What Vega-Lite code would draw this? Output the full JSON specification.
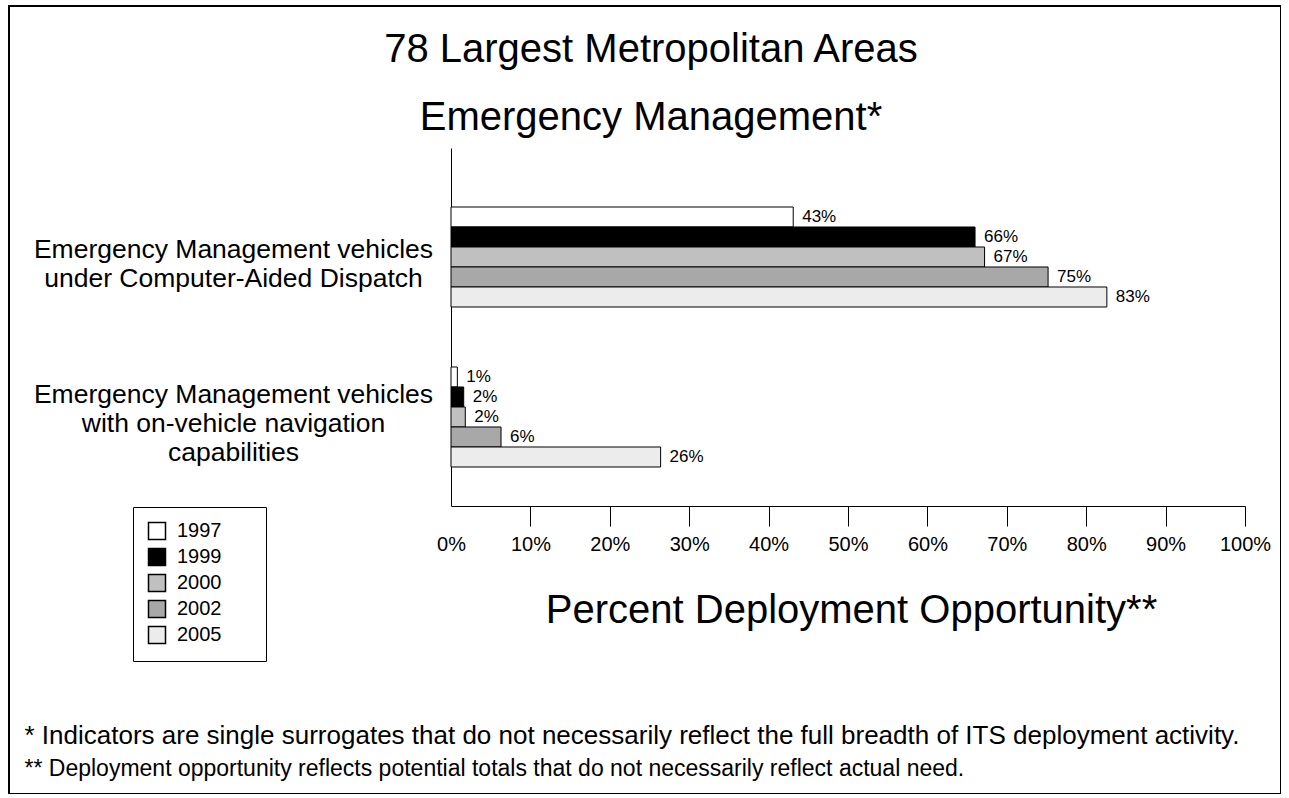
{
  "$schema": "https://vega.github.io/schema/vega-lite/v6.json",
  "width": 1272,
  "height": 788,
  "autosize": {"type": "none"},
  "padding": {"left": 9, "top": 6, "right": 0, "bottom": 0},
  "background": "white",
  "config": {
    "font": "Liberation Sans",
    "view": {"stroke": "black", "strokeWidth": 2},
    "axis": {"labelColor": "black", "titleColor": "black", "domainColor": "black", "tickColor": "black", "grid": false}
  },
  "title": {
    "text": ["78 Largest Metropolitan Areas", "Emergency Management*"],
    "fontSize": 40,
    "fontWeight": "normal",
    "lineHeight": 68,
    "baseline": "top",
    "anchor": "middle",
    "offset": -132,
    "dx": 6,
    "color": "black"
  },
  "data": {
    "values": [
      {"cat": "Emergency Management vehicles|under Computer-Aided Dispatch", "year": "1997", "v": 0.431},
      {"cat": "Emergency Management vehicles|under Computer-Aided Dispatch", "year": "1999", "v": 0.66},
      {"cat": "Emergency Management vehicles|under Computer-Aided Dispatch", "year": "2000", "v": 0.672},
      {"cat": "Emergency Management vehicles|under Computer-Aided Dispatch", "year": "2002", "v": 0.752},
      {"cat": "Emergency Management vehicles|under Computer-Aided Dispatch", "year": "2005", "v": 0.826},
      {"cat": "Emergency Management vehicles|with on-vehicle navigation|capabilities", "year": "1997", "v": 0.008},
      {"cat": "Emergency Management vehicles|with on-vehicle navigation|capabilities", "year": "1999", "v": 0.016},
      {"cat": "Emergency Management vehicles|with on-vehicle navigation|capabilities", "year": "2000", "v": 0.018},
      {"cat": "Emergency Management vehicles|with on-vehicle navigation|capabilities", "year": "2002", "v": 0.063},
      {"cat": "Emergency Management vehicles|with on-vehicle navigation|capabilities", "year": "2005", "v": 0.264}
    ]
  },
  "layer": [
    {
      "layer": [
        {
          "mark": {"type": "bar", "stroke": "black"},
          "encoding": {
            "x": {
              "field": "v",
              "type": "quantitative",
              "scale": {"domain": [0, 1], "range": [442, 1236], "nice": false, "zero": true},
              "axis": {
                "orient": "bottom",
                "offset": -288,
                "values": [0, 0.1, 0.2, 0.3, 0.4, 0.5, 0.6, 0.7, 0.8, 0.9, 1],
                "format": ".0%",
                "tickSize": 20,
                "tickOpacity": {"condition": {"test": "datum.value === 0", "value": 0}, "value": 1},
                "labelFontSize": 20,
                "labelPadding": 8,
                "labelFlush": false,
                "labelOverlap": false,
                "title": "Percent Deployment Opportunity**",
                "titleFontSize": 40,
                "titleFontWeight": "normal",
                "titleX": 842,
                "titleY": 104,
                "titleBaseline": "middle",
                "titleAlign": "center"
              }
            },
            "y": {
              "field": "cat",
              "type": "nominal",
              "sort": null,
              "scale": {"type": "band", "range": [142, 500], "paddingInner": 0.375, "paddingOuter": 0.30625, "align": 0.602},
              "axis": {
                "orient": "left",
                "offset": -442,
                "ticks": false,
                "tickSize": 0,
                "labelExpr": "split(datum.label, '|')",
                "labelAlign": "center",
                "labelBaseline": "middle",
                "labelPadding": 218,
                "labelFontSize": 26.5,
                "labelLineHeight": 29,
                "labelOffset": {"condition": {"test": "indexof(datum.label, 'capabilities') >= 0", "value": -22}, "value": -7},
                "labelLimit": 600,
                "title": null
              }
            },
            "yOffset": {"field": "year", "type": "nominal", "scale": {"paddingInner": 0, "paddingOuter": 0}},
            "fill": {
              "field": "year",
              "type": "nominal",
              "scale": {"domain": ["1997", "1999", "2000", "2002", "2005"], "range": ["#ffffff", "#000000", "#c0c0c0", "#a8a8a8", "#ececec"]},
              "legend": {
                "orient": "none",
                "legendX": 124,
                "legendY": 501,
                "title": null,
                "strokeColor": "black",
                "padding": 14,
                "symbolType": "square",
                "symbolSize": 289,
                "symbolStrokeColor": "black",
                "symbolOffset": 0,
                "labelFontSize": 20,
                "labelColor": "black",
                "labelOffset": 10,
                "rowPadding": 2,
                "labelExpr": "datum.label + '\u2800\u2800'"
              }
            }
          }
        },
        {
          "mark": {"type": "text", "align": "left", "baseline": "middle", "dx": 9, "fontSize": 17, "color": "black"},
          "encoding": {
            "x": {"field": "v", "type": "quantitative"},
            "y": {"field": "cat", "type": "nominal", "sort": null},
            "yOffset": {"field": "year", "type": "nominal"},
            "text": {"field": "v", "type": "quantitative", "format": ".0%"}
          }
        }
      ]
    },
    {
      "data": {"values": [{"f": 0}]},
      "mark": {"type": "point", "opacity": 0},
      "encoding": {
        "x": {
          "field": "f",
          "type": "quantitative",
          "scale": {"domain": [0, 10], "range": [0, 1272]},
          "axis": {
            "orient": "bottom",
            "offset": -68,
            "domain": false,
            "ticks": false,
            "labels": false,
            "grid": false,
            "title": "* Indicators are single surrogates that do not necessarily reflect the full breadth of ITS deployment activity.",
            "titleX": 15,
            "titleY": 9,
            "titleAlign": "left",
            "titleAnchor": "start",
            "titleBaseline": "middle",
            "titleFontSize": 26,
            "titleFontWeight": "normal",
            "titleLimit": 1300
          }
        }
      }
    },
    {
      "data": {"values": [{"g": 0}]},
      "mark": {"type": "point", "opacity": 0},
      "encoding": {
        "x": {
          "field": "g",
          "type": "quantitative",
          "scale": {"domain": [0, 10], "range": [0, 1272]},
          "axis": {
            "orient": "bottom",
            "offset": -26,
            "domain": false,
            "ticks": false,
            "labels": false,
            "grid": false,
            "title": "** Deployment opportunity reflects potential totals that do not necessarily reflect actual need.",
            "titleX": 15,
            "titleY": 0,
            "titleAlign": "left",
            "titleAnchor": "start",
            "titleBaseline": "middle",
            "titleFontSize": 23,
            "titleFontWeight": "normal",
            "titleLimit": 1300
          }
        }
      }
    }
  ],
  "resolve": {"scale": {"x": "independent"}, "axis": {"x": "independent"}}
}
